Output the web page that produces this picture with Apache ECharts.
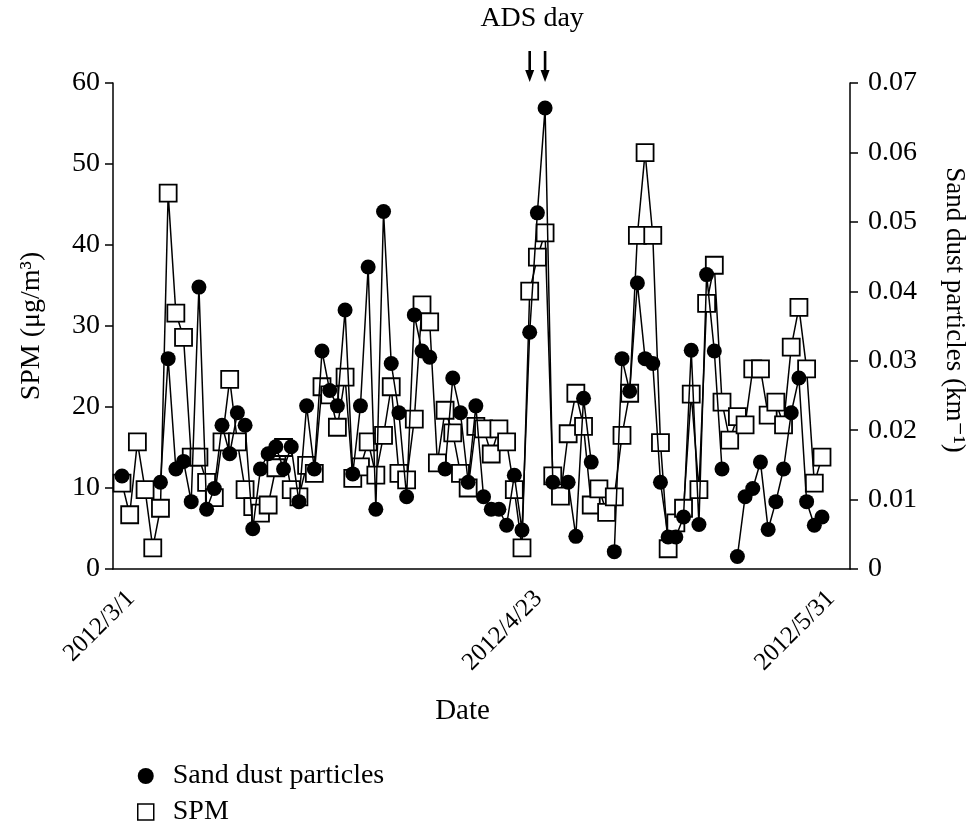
<!DOCTYPE html>
<html>
<head>
<meta charset="utf-8">
<script src="https://cdn.jsdelivr.net/npm/echarts@6/dist/echarts.min.js"></script>
<style>
  html, body { margin: 0; padding: 0; background: #fff; }
  #chart { width: 967px; height: 821px; }
</style>
</head>
<body>
<div id="chart"></div>
<script>
// days of spring 2012, 3/1 .. 5/31
var months = [['2012/3', 31], ['2012/4', 30], ['2012/5', 31]]
var dates = []
months.forEach(function(m) {
  for (var d = 1; d <= m[1]; d++) dates.push(m[0] + '/' + d)
})
var tickLabels = ['2012/3/1', '2012/4/23', '2012/5/31']
var adsDays = ['2012/4/23', '2012/4/25']

// SPM (ug/m3), one per day
var spm = [
  10.6, 6.7, 15.7, 9.8, 2.6, 7.5, 46.4, 31.6, 28.6, 13.8,
  13.8, 10.7, 8.8, 15.7, 23.4, 15.7, 9.8, 7.7, 6.9, 7.9,
  12.5, 15.0, 9.8, 8.9, 12.8, 11.8, 22.5, 21.5, 17.5, 23.7,
  11.2, 12.6, 15.7, 11.6, 16.5, 22.5, 11.8, 11.0, 18.5, 32.6,
  30.5, 13.1, 19.6, 16.8, 11.8, 10.0, 17.6, 17.3, 14.2, 17.3,
  15.7, 9.8, 2.6, 34.3, 38.5, 41.5, 11.5, 9.0, 16.7, 21.7,
  17.6, 7.9, 9.9, 7.0, 8.9, 16.5, 21.7, 41.2, 51.4, 41.2,
  15.6, 2.5, 5.7, 7.5, 21.6, 9.8, 32.8, 37.5, 20.6, 15.9,
  18.8, 17.8, 24.7, 24.7, 19.0, 20.6, 17.8, 27.4, 32.3, 24.7,
  10.6, 13.8
]

// sand dust particles (km-1), '-' = no data
var sandDust = [
  0.0134, '-', '-', '-', '-', 0.0125, 0.0303, 0.0144, 0.0155, 0.0097,
  0.0406, 0.0086, 0.0116, 0.0207, 0.0166, 0.0225, 0.0207, 0.0058, 0.0144, 0.0166,
  0.0176, 0.0144, 0.0176, 0.0097, 0.0235, 0.0144, 0.0314, 0.0257, 0.0235, 0.0373,
  0.0137, 0.0235, 0.0435, 0.0086, 0.0515, 0.0296, 0.0225, 0.0104, 0.0366, 0.0314,
  0.0305, '-', 0.0144, 0.0275, 0.0225, 0.0125, 0.0235, 0.0104, 0.0086, 0.0086,
  0.0063, 0.0135, 0.0056, 0.0341, 0.0513, 0.0664, 0.0125, '-', 0.0125, 0.0047,
  0.0246, 0.0154, '-', '-', 0.0025, 0.0303, 0.0256, 0.0412, 0.0303, 0.0296,
  0.0125, 0.0046, 0.0046, 0.0075, 0.0315, 0.0064, 0.0424, 0.0314, 0.0144, '-',
  0.0018, 0.0104, 0.0116, 0.0154, 0.0057, 0.0097, 0.0144, 0.0225, 0.0275, 0.0097,
  0.0063, 0.0075
]

var FONT = "'Liberation Serif', 'DejaVu Serif', serif"
var black = '#000'

var chart = echarts.init(document.getElementById('chart'))
chart.setOption({
  animation: false,
  backgroundColor: '#fff',
  grid: { left: 113, right: 117, top: 83, bottom: 252, containLabel: false, outerBoundsMode: 'none' },
  legend: {
    orient: 'vertical',
    left: 132,
    top: 757,
    height: 120,
    itemWidth: 16,
    itemHeight: 16,
    itemGap: 8,
    textStyle: { fontFamily: FONT, fontSize: 28, color: black, padding: [0, 0, 0, 14] },
    data: [
      { name: 'Sand dust particles', icon: 'circle', itemStyle: { color: black } },
      { name: 'SPM', icon: 'rect', itemStyle: { color: '#fff', borderColor: black, borderWidth: 1.5 } }
    ]
  },
  xAxis: {
    type: 'value',
    min: -1.17,
    max: 94.64,
    name: 'Date',
    nameLocation: 'middle',
    nameGap: 128,
    nameTextStyle: { fontFamily: FONT, fontSize: 29, color: black, padding: [0, 38, 0, 0] },
    axisLine: { onZero: false, lineStyle: { color: black, width: 1.5 } },
    axisTick: { show: false },
    splitLine: { show: false },
    axisLabel: {
      customValues: tickLabels.map(function(d) { return dates.indexOf(d) }),
      formatter: function(v) { return dates[v] },
      rotate: 45,
      margin: 17,
      verticalAlign: 'top',
      fontFamily: FONT,
      fontSize: 25,
      color: black
    }
  },
  yAxis: [
    {
      type: 'value',
      position: 'left',
      min: 0,
      max: 60,
      interval: 10,
      name: 'SPM (μg/m³)',
      nameLocation: 'middle',
      nameRotate: 90,
      nameGap: 67,
      nameTextStyle: { fontFamily: FONT, fontSize: 28, color: black },
      axisLine: { show: true, onZero: false, lineStyle: { color: black, width: 1.5 } },
      axisTick: { show: true, length: 8, lineStyle: { color: black, width: 1.5 } },
      splitLine: { show: false },
      axisLabel: { margin: 13, fontFamily: FONT, fontSize: 28, color: black }
    },
    {
      type: 'value',
      position: 'right',
      min: 0,
      max: 0.07,
      interval: 0.01,
      name: 'Sand dust particles (km⁻¹)',
      nameLocation: 'middle',
      nameRotate: -90,
      nameGap: 91,
      nameTextStyle: { fontFamily: FONT, fontSize: 27, color: black, padding: [0, 32, 0, 0] },
      axisLine: { show: true, onZero: false, lineStyle: { color: black, width: 1.5 } },
      axisTick: { show: true, length: 8, lineStyle: { color: black, width: 1.5 } },
      splitLine: { show: false },
      axisLabel: {
        margin: 18,
        fontFamily: FONT,
        fontSize: 28,
        color: black,
        formatter: function(v) { return v === 0 ? '0' : v.toFixed(2) }
      }
    }
  ],
  series: [
    {
      name: 'SPM',
      type: 'line',
      yAxisIndex: 0,
      z: 2,
      symbol: 'rect',
      symbolSize: 17,
      showAllSymbol: true,
      lineStyle: { color: black, width: 1.5 },
      itemStyle: { color: '#fff', borderColor: black, borderWidth: 1.8 },
      data: spm.map(function(v, i) { return [i, v] })
    },
    {
      name: 'Sand dust particles',
      type: 'line',
      yAxisIndex: 1,
      z: 3,
      symbol: 'circle',
      symbolSize: 15,
      showAllSymbol: true,
      connectNulls: false,
      lineStyle: { color: black, width: 1.5 },
      itemStyle: { color: black },
      data: sandDust.map(function(v, i) { return [i, v] })
    }
  ]
})

// "ADS day" marker with arrows above the plot
var arrowX = adsDays.map(function(d) {
  return chart.convertToPixel({ xAxisIndex: 0 }, dates.indexOf(d))
})
var midX = (arrowX[0] + arrowX[1]) / 2
var graphics = [{
  type: 'text',
  left: midX - 57,
  top: 5,
  style: { text: 'ADS day', fontFamily: FONT, fontSize: 28, fill: black }
}]
arrowX.forEach(function(x) {
  graphics.push({
    type: 'line',
    shape: { x1: x, y1: 51, x2: x, y2: 73 },
    style: { stroke: black, lineWidth: 2.6 }
  })
  graphics.push({
    type: 'polygon',
    shape: { points: [[x - 4.5, 70], [x + 4.5, 70], [x, 82]] },
    style: { fill: black }
  })
})
chart.setOption({ graphic: graphics })
</script>
</body>
</html>
